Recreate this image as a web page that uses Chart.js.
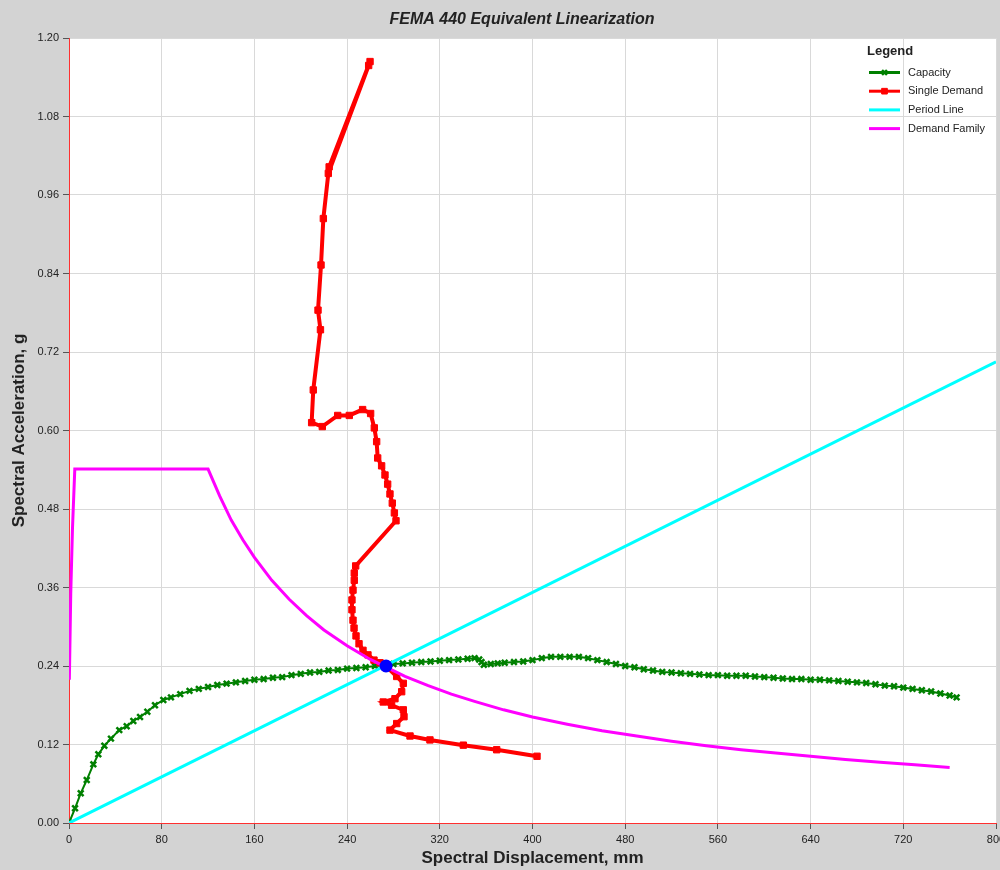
<!DOCTYPE html>
<html>
<head>
<meta charset="utf-8">
<title>FEMA 440 Equivalent Linearization</title>
<script src="https://cdn.jsdelivr.net/npm/chart.js@4.4.1/dist/chart.umd.min.js"></script>
<style>
  html, body { margin: 0; padding: 0; background: #d3d3d3; }
  #wrap { width: 1000px; height: 870px; }
</style>
</head>
<body>
<div id="wrap"><canvas id="spectrumChart" width="1000" height="870"></canvas></div>
<script>
// ── DATA ─────────────────────────────────────────────
// axis ticks
const xTicks = [0, 80, 160, 240, 320, 400, 480, 560, 640, 720, 800];
const yTicks = [0, 0.12, 0.24, 0.36, 0.48, 0.60, 0.72, 0.84, 0.96, 1.08, 1.20];
const yTickLabels = ['0.00', '0.12', '0.24', '0.36', '0.48', '0.60', '0.72', '0.84', '0.96', '1.08', '1.20'];

// capacity spectrum (Sd mm, Sa g)
const capSd = [0, 5.2, 10.1, 15.3, 21.0, 25.3, 30.5, 36.2, 43.4, 49.8, 55.5, 61.3, 67.6, 74.2, 81.4,
  88, 96, 104, 112, 120, 128, 136, 144, 152, 160, 168, 176, 184, 192, 200, 208, 216, 224, 232, 240,
  248, 256, 264, 272, 280, 288, 296, 304, 312, 320, 328, 336, 344, 350, 354, 356, 358, 364, 370, 376,
  384, 392, 400, 408, 416, 424, 432, 440, 448, 456, 464, 472, 480, 488, 496, 504, 512, 520, 528, 536,
  544, 552, 560, 568, 576, 584, 592, 600, 608, 616, 624, 632, 640, 648, 656, 664, 672, 680, 688, 696,
  704, 712, 720, 728, 736, 744, 752, 760, 766];
const capSa = [0, 0.0225, 0.0454, 0.0657, 0.0897, 0.105, 0.118, 0.129, 0.142, 0.148, 0.156, 0.162, 0.170, 0.180, 0.188,
  0.192, 0.197, 0.202, 0.205, 0.208, 0.211, 0.213, 0.215, 0.217, 0.219, 0.220, 0.222, 0.223, 0.226, 0.228, 0.230, 0.231, 0.233, 0.234, 0.236,
  0.237, 0.238, 0.240, 0.241, 0.243, 0.244, 0.245, 0.246, 0.247, 0.248, 0.249, 0.250, 0.251, 0.252, 0.250, 0.246, 0.242, 0.243, 0.244, 0.245,
  0.246, 0.247, 0.249, 0.252, 0.254, 0.254, 0.254, 0.254, 0.252, 0.249, 0.246, 0.243, 0.240, 0.238, 0.235, 0.233, 0.231, 0.230, 0.229, 0.228,
  0.227, 0.226, 0.226, 0.225, 0.225, 0.225, 0.224, 0.223, 0.222, 0.221, 0.220, 0.220, 0.219, 0.219, 0.218, 0.217, 0.216, 0.215, 0.214, 0.212,
  0.210, 0.209, 0.207, 0.205, 0.203, 0.201, 0.198, 0.195, 0.192];

// single demand locus
const demSd = [259.8, 224.5, 258.6, 223.8, 219.5, 217.5, 214.9, 217.0, 210.8, 209.4, 218.6, 231.9, 241.9, 253.4, 260.3,
  263.5, 265.5, 266.4, 269.8, 272.7, 275.0, 277.0, 279.0, 280.8, 282.2, 247.4, 246.2, 246.2, 245.1, 244.2,
  244.2, 245.1, 246.0, 247.7, 250.3, 253.7, 258.0, 263.2, 268.4, 273.6, 282.8, 288.5, 287.1, 281.3, 271.2,
  278.4, 288.5, 289.1, 282.8, 277.0, 294.3, 311.5, 340.3, 369.1, 403.9];
const demSa = [1.164, 1.003, 1.158, 0.993, 0.924, 0.853, 0.784, 0.754, 0.662, 0.612, 0.606, 0.623, 0.623, 0.632, 0.626,
  0.604, 0.583, 0.558, 0.546, 0.532, 0.518, 0.503, 0.489, 0.474, 0.462, 0.393, 0.382, 0.371, 0.356, 0.341,
  0.326, 0.310, 0.298, 0.286, 0.274, 0.264, 0.257, 0.249, 0.245, 0.240, 0.224, 0.2135, 0.2007, 0.190, 0.185,
  0.180, 0.173, 0.1625, 0.152, 0.142, 0.133, 0.127, 0.119, 0.112, 0.102];

// effective period line
const periodSd = [0, 800];
const periodSa = [0, 0.705];

// demand spectrum family
const famSd = [0.3, 1.5, 3.0, 5.0, 120, 130, 140, 150, 160, 175, 190, 205, 220, 240, 260, 275, 290, 310, 330, 350,
  375, 400, 430, 460, 490, 520, 550, 580, 610, 640, 670, 700, 730, 760];
const famSa = [0.219, 0.350, 0.450, 0.541, 0.541, 0.500, 0.463, 0.433, 0.406, 0.371, 0.342, 0.317, 0.295, 0.271, 0.250, 0.237, 0.224, 0.210, 0.197, 0.186,
  0.173, 0.162, 0.151, 0.141, 0.133, 0.125, 0.118, 0.112, 0.107, 0.102, 0.097, 0.093, 0.089, 0.085];

// performance point
const perfSd = [273.6];
const perfSa = [0.240];

const pts = (xs, ys) => xs.map((x, i) => ({ x: x, y: ys[i] }));
const FONT = '"Liberation Sans", Arial, sans-serif';

// ── PLUGINS ──────────────────────────────────────────
const plotBg = {
  id: 'plotBg',
  beforeDraw(chart) {
    const { ctx, chartArea: a } = chart;
    ctx.save();
    ctx.fillStyle = '#d3d3d3'; ctx.fillRect(0, 0, chart.width, chart.height);
    ctx.fillStyle = '#ffffff'; ctx.fillRect(a.left, a.top, a.right - a.left, a.bottom - a.top);
    ctx.restore();
  }
};

const chartTitle = {
  id: 'chartTitle',
  afterDraw(chart) {
    const ctx = chart.ctx;
    ctx.save();
    ctx.font = 'italic bold 16px ' + FONT;
    ctx.fillStyle = '#222'; ctx.textAlign = 'center'; ctx.textBaseline = 'middle';
    ctx.fillText('FEMA 440 Equivalent Linearization', 522, 20);
    ctx.restore();
  }
};

const legendBox = {
  id: 'legendBox',
  afterDraw(chart) {
    const ctx = chart.ctx;
    ctx.save();
    ctx.textBaseline = 'middle'; ctx.textAlign = 'left';
    ctx.fillStyle = '#222'; ctx.font = 'bold 13px ' + FONT;
    ctx.fillText('Legend', 867, 51);
    ctx.font = '11px ' + FONT;
    chart.data.datasets.filter(d => d.label).forEach((ds, i) => {
      const y = 72.5 + i * 18.7;
      ctx.strokeStyle = ds.borderColor; ctx.fillStyle = ds.borderColor; ctx.lineWidth = 3;
      ctx.beginPath(); ctx.moveTo(869, y); ctx.lineTo(900, y); ctx.stroke();
      if (ds.pointRadius) {
        ctx.lineWidth = ds.pointBorderWidth;
        Chart.helpers.drawPoint(ctx, { pointStyle: ds.pointStyle, rotation: 0, radius: ds.pointRadius - 0.5, borderWidth: ds.pointBorderWidth }, 884.5, y);
      }
      ctx.fillStyle = '#222';
      ctx.fillText(ds.label, 908, y);
    });
    ctx.restore();
  }
};

// ── CHART ────────────────────────────────────────────
const gridColor = c => (c.tick && c.tick.value === 0) ? 'rgba(0,0,0,0)' : '#d9d9d9';

new Chart(document.getElementById('spectrumChart'), {
  type: 'scatter',
  data: {
    datasets: [
      { label: 'Capacity', data: pts(capSd, capSa), showLine: true, borderColor: '#008000', backgroundColor: '#008000',
        borderWidth: 2, pointStyle: 'crossRot', pointRadius: 4, pointBorderWidth: 2.5, order: 4 },
      { label: 'Single Demand', data: pts(demSd, demSa), showLine: true, borderColor: '#ff0000', backgroundColor: '#ff0000',
        borderWidth: 4, pointStyle: 'rect', pointRadius: 4.5, pointBorderWidth: 1, order: 3 },
      { label: 'Period Line', data: pts(periodSd, periodSa), showLine: true, borderColor: '#00ffff', backgroundColor: '#00ffff',
        borderWidth: 3, pointRadius: 0, order: 2 },
      { label: 'Demand Family', data: pts(famSd, famSa), showLine: true, borderColor: '#ff00ff', backgroundColor: '#ff00ff',
        borderWidth: 3, pointRadius: 0, order: 1 },
      { data: pts(perfSd, perfSa), borderColor: '#0000ff', backgroundColor: '#0000ff',
        pointStyle: 'circle', pointRadius: 6.5, pointBorderWidth: 0, order: 0 }
    ]
  },
  options: {
    responsive: false,
    animation: false,
    layout: { autoPadding: false, padding: { top: 38, right: 4, bottom: 0, left: 0 } },
    plugins: { legend: { display: false }, title: { display: false }, tooltip: { enabled: false } },
    scales: {
      x: {
        type: 'linear', min: 0, max: 800,
        afterBuildTicks: s => { s.ticks = xTicks.map(v => ({ value: v })); },
        afterFit: s => { s.height = 47; s.paddingLeft = 0; s.paddingRight = 0; },
        grid: { color: gridColor, tickColor: '#555', tickLength: 6, lineWidth: 1 },
        border: { color: '#ff3030', width: 1 },
        ticks: { color: '#222', font: { family: FONT, size: 11 }, padding: 4, maxRotation: 0, autoSkip: false,
          callback: (v, i) => String(xTicks[i]) },
        title: { display: true, text: 'Spectral Displacement, mm', color: '#222',
          font: { family: FONT, size: 17, weight: 'bold' }, padding: { top: 0, bottom: 1 } }
      },
      y: {
        type: 'linear', min: 0, max: 1.2,
        afterBuildTicks: s => { s.ticks = yTicks.map(v => ({ value: v })); },
        afterFit: s => { s.width = 69; s.paddingTop = 0; s.paddingBottom = 0; },
        grid: { color: gridColor, tickColor: '#555', tickLength: 6, lineWidth: 1 },
        border: { color: '#ff3030', width: 1 },
        ticks: { color: '#222', font: { family: FONT, size: 11 }, padding: 4, autoSkip: false,
          callback: (v, i) => yTickLabels[i] },
        title: { display: true, text: 'Spectral Acceleration, g', color: '#222',
          font: { family: FONT, size: 17, weight: 'bold' }, padding: { top: 9, bottom: 0 } }
      }
    }
  },
  plugins: [plotBg, chartTitle, legendBox]
});
</script>
</body>
</html>
